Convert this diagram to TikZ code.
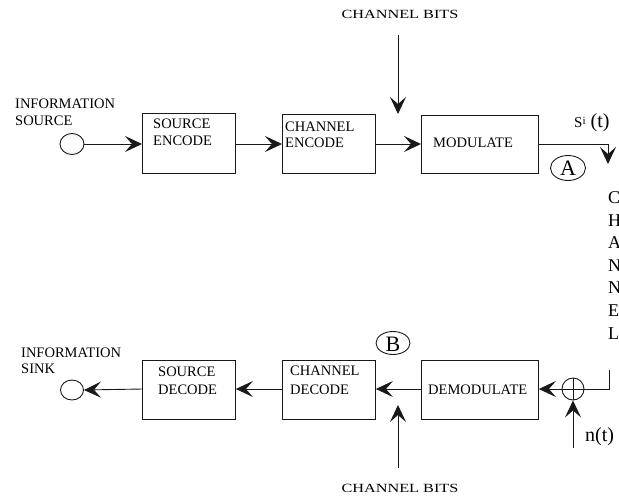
\documentclass[tikz,border=0pt]{standalone}
\usepackage{fontspec}
\setmainfont{Liberation Serif}
\newfontfamily\widefont{Liberation Serif}[FakeStretch=1.3]
\usetikzlibrary{arrows.meta,shapes.geometric}
\begin{document}
\begin{tikzpicture}[x=1pt,y=-1pt,
  line/.style={draw=black!90,line width=0.9pt},
  arr/.style={line,-{Stealth[length=17pt,width=16pt,inset=7pt]}},
  blk/.style={line,rectangle,inner sep=0pt,anchor=north west},
  lbl/.style={inner sep=0pt,anchor=base west,font=\fontsize{14.5}{17}\selectfont},
  big/.style={inner sep=0pt,font=\fontsize{22}{22}\selectfont},
  bits/.style={inner sep=0pt,anchor=base,font=\widefont\fontsize{12.5}{14}\selectfont},
  term/.style={line,ellipse,minimum width=24pt,minimum height=21pt,inner sep=0pt},
  ovalmark/.style={line,ellipse,inner sep=0pt}
]
\useasboundingbox (0,0) rectangle (619,499);

% ---------- top row ----------
\node[term] (src) at (72,144) {};
\node[lbl] (srct1) at (15,108) {INFORMATION};
\node[lbl] (srct2) at (15,125) {SOURCE};

\node[blk,minimum width=93pt,minimum height=60pt] (se) at (142,113) {};
\node[lbl] (se1) at (153,128) {SOURCE};
\node[lbl] (se2) at (153,145) {ENCODE};

\node[blk,minimum width=93pt,minimum height=59pt] (ce) at (282,114) {};
\node[lbl] (ce1) at (285,131) {CHANNEL};
\node[lbl] (ce2) at (285,147) {ENCODE};

\node[blk,minimum width=117pt,minimum height=58pt] (mod) at (421,115) {};
\node[lbl] (mod1) at (433,147) {MODULATE};

\draw[arr] (src.east) -- (se.west |- src.east);
\draw[arr] (se.east |- src.east) -- (ce.west |- src.east);
\draw[arr] (ce.east |- src.east) -- (mod.west |- src.east);

\node[bits] (cbt) at (400,18) {CHANNEL BITS};
\coordinate (cbtA) at (398,35);
\coordinate (cbtB) at (398,114);
\draw[arr] (cbtA) -- (cbtB);

\coordinate (corner1) at (608,144);
\coordinate (chtop) at (608,164);
\draw[line] (mod.east |- corner1) -- (corner1);
\draw[arr] (corner1) -- (chtop);

\node[inner sep=0pt,anchor=base west] (sit) at (574,127)
  {{\fontsize{15}{15}\selectfont S}\raisebox{3pt}{\fontsize{11}{11}\selectfont i}\hspace{5pt}{\fontsize{20}{20}\selectfont (t)}};

\node[ovalmark,minimum width=35pt,minimum height=25pt] (A) at (568,168) {};
\node[big] (At) at (568,168) {A};

% vertical CHANNEL
\node[inner sep=0pt,anchor=base west,font=\fontsize{18}{22.6}\selectfont,align=left] (chan) at (608,339)
  {C\\H\\A\\N\\N\\E\\L};

% ---------- bottom row ----------
\node[term,minimum width=23pt,minimum height=20pt] (snk) at (72,390) {};
\node[lbl] (snkt1) at (21,357) {INFORMATION};
\node[lbl] (snkt2) at (21,373) {SINK};

\node[blk,minimum width=93pt,minimum height=59pt] (sd) at (142,360) {};
\node[lbl] (sd1) at (158,376) {SOURCE};
\node[lbl] (sd2) at (158,394) {DECODE};

\node[blk,minimum width=93pt,minimum height=59pt] (cd) at (282,360) {};
\node[lbl] (cd1) at (290,375) {CHANNEL};
\node[lbl] (cd2) at (290,394) {DECODE};

\node[blk,minimum width=117pt,minimum height=59pt] (dem) at (421,360) {};
\node[lbl] (dem1) at (428,394) {DEMODULATE};

\node[line,circle,minimum size=22pt,inner sep=0pt] (sum) at (573,389) {};
\draw[line] (sum.north) -- (sum.south) (sum.west) -- (sum.east);

\coordinate (chbot) at (609,370);
\coordinate (corner2) at (609,389);
\draw[line] (chbot) -- (corner2) -- (sum.east);

\draw[arr] (sum.west) -- (dem.east |- sum.west);
\draw[arr] (dem.west |- sum.west) -- (cd.east |- sum.west);
\draw[arr] (cd.west |- sum.west) -- (sd.east |- sum.west);
\draw[arr] (sd.west |- sum.west) -- (snk.east);

\coordinate (nA) at (573,448);
\draw[arr] (nA) -- (sum.south);
\node[inner sep=0pt,anchor=base west,font=\fontsize{20}{20}\selectfont] (nt) at (585,441) {n(t)};

\coordinate (cbbA) at (398,468);
\coordinate (cbbB) at (398,405);
\draw[arr] (cbbA) -- (cbbB);
\node[bits] (cbb) at (400,492) {CHANNEL BITS};

\node[ovalmark,minimum width=34pt,minimum height=23pt] (B) at (393,343) {};
\node[big] (Bt) at (393,344) {B};
\end{tikzpicture}
\end{document}
